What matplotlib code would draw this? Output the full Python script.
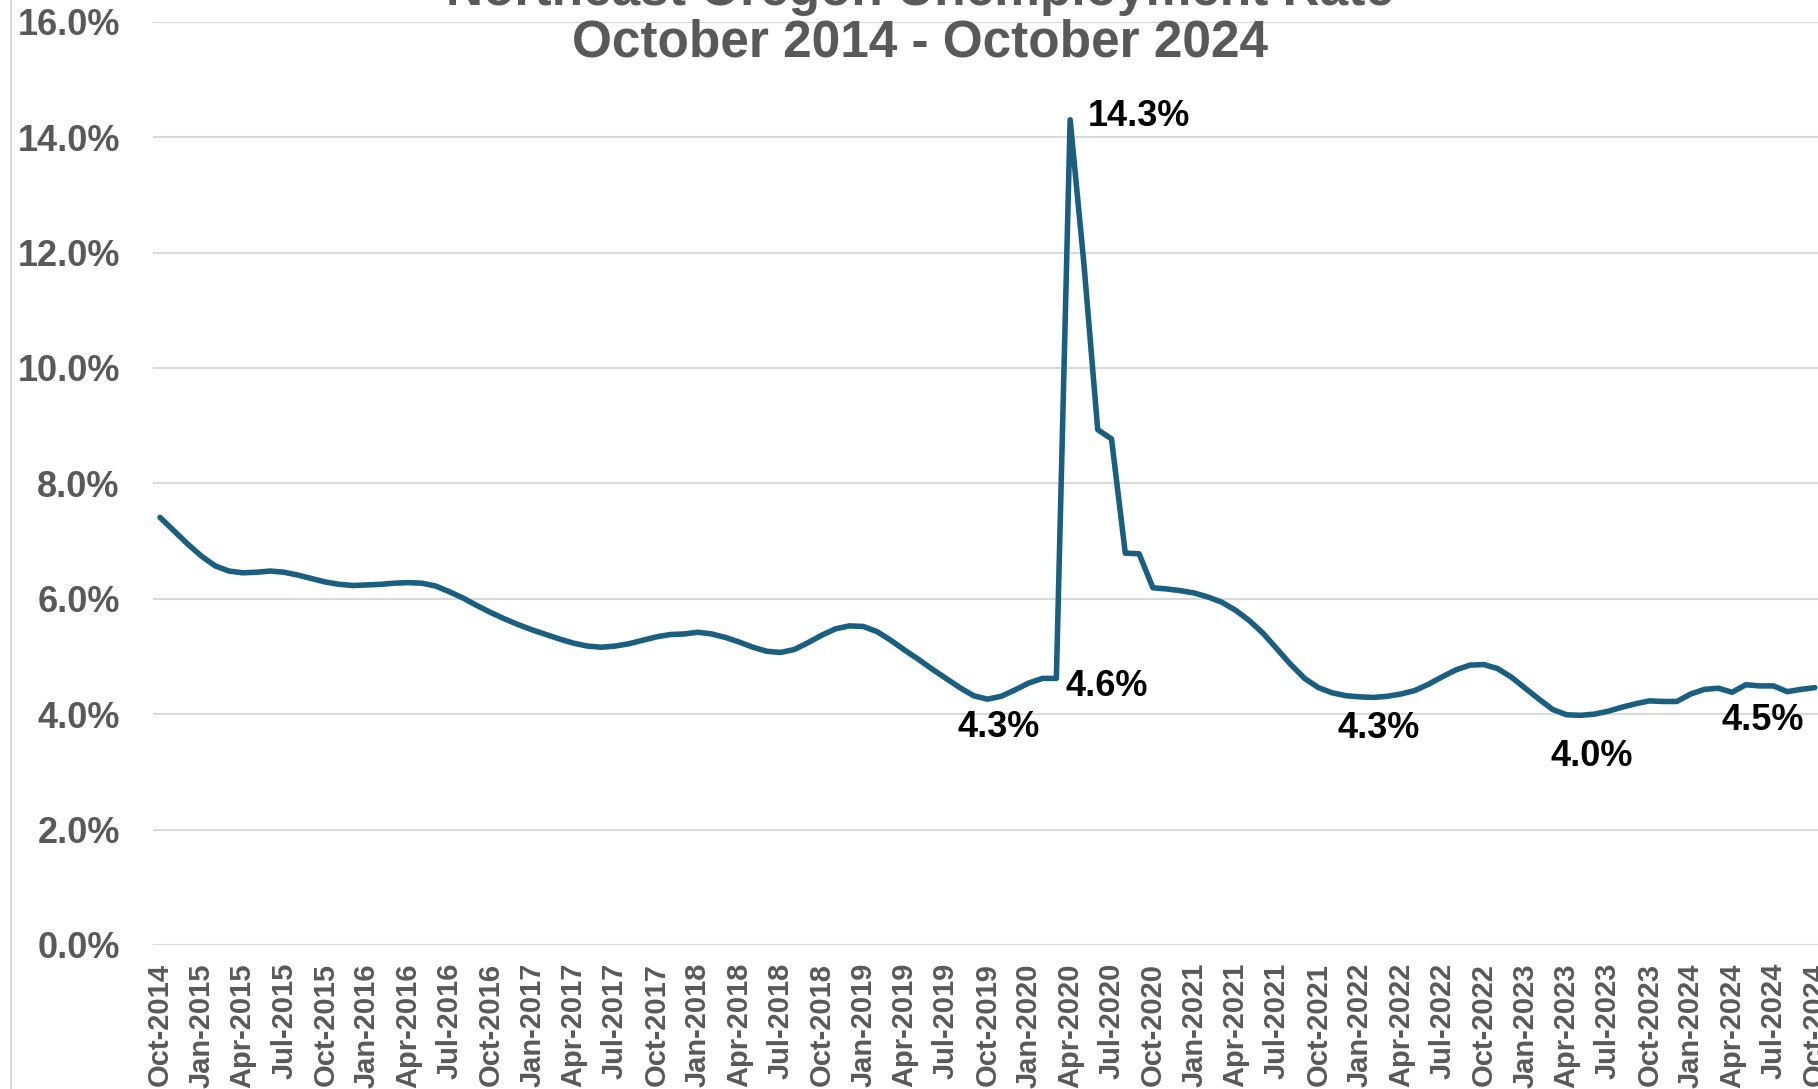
import matplotlib
matplotlib.use("Agg")
import matplotlib.pyplot as plt
from matplotlib.lines import Line2D
import pandas as pd

plt.rcParams['font.family'] = ['Liberation Sans', 'DejaVu Sans']

# ---------------- data ----------------
title_line1 = "Northeast Oregon Unemployment Rate"
title_line2 = "October 2014 - October 2024"

months = pd.date_range("2014-10-01", "2024-10-01", freq="MS")
rate = [
    7.41, 7.18, 6.95, 6.74, 6.57, 6.48, 6.45, 6.46, 6.48, 6.46, 6.41, 6.35,
    6.29, 6.25, 6.23, 6.24, 6.25, 6.27, 6.28, 6.27, 6.22, 6.12, 6.01, 5.88,
    5.76, 5.65, 5.55, 5.46, 5.38, 5.30, 5.23, 5.18, 5.16, 5.18, 5.22, 5.28,
    5.34, 5.38, 5.39, 5.42, 5.39, 5.33, 5.25, 5.16, 5.09, 5.07, 5.12, 5.24,
    5.37, 5.48, 5.53, 5.52, 5.43, 5.28, 5.11, 4.95, 4.78, 4.62, 4.46, 4.32,
    4.26, 4.31, 4.42, 4.54, 4.62, 4.62, 14.3, 11.8, 8.93, 8.77, 6.79, 6.78,
    6.19, 6.17, 6.14, 6.10, 6.03, 5.94, 5.80, 5.62, 5.40, 5.13, 4.86, 4.62,
    4.46, 4.37, 4.32, 4.30, 4.29, 4.31, 4.35, 4.41, 4.52, 4.65, 4.77, 4.85,
    4.86, 4.79, 4.64, 4.45, 4.26, 4.08, 3.99, 3.98, 4.00, 4.05, 4.12, 4.18,
    4.23, 4.22, 4.22, 4.35, 4.43, 4.45, 4.38, 4.51, 4.49, 4.49, 4.39, 4.43,
    4.46,
]
month_labels = [d.strftime("%b-%Y") for d in months]
yticks = [0, 2, 4, 6, 8, 10, 12, 14, 16]
# labelled points: (month index, offset x pt, offset y pt, ha)
label_idx = [66, 65, 60, 88, 103, 120]
label_off = [(13, -4.5, 'left'), (6.7, -12.8, 'left'), (7.8, -27.4, 'center'),
             (3.6, -29.2, 'center'), (8.5, -36.6, 'center'), (-37.7, -30.2, 'center')]

# ---------------- figure ----------------
W, H = 1818, 1089
fig = plt.figure(figsize=(W / 100, H / 100), dpi=100)
fig.patch.set_facecolor('white')

ax_left, ax_right = 153.1, 1821.7
ax_top, ax_bot = 21.7, 945.0
ax = fig.add_axes([ax_left / W, 1 - ax_bot / H, (ax_right - ax_left) / W, (ax_bot - ax_top) / H])

x = list(range(len(rate)))
ax.plot(x, rate, color='#1a5f80', lw=4.0, solid_joinstyle='round', solid_capstyle='round',
        zorder=3, clip_on=False)

ax.set_xlim(-0.5, len(rate) - 0.5)
ax.set_ylim(0, 16)
ax.set_yticks(yticks)
ax.set_yticklabels([f"{v:.1f}%" for v in yticks])
tick_pos = x[::3]
ax.set_xticks(tick_pos)
ax.set_xticklabels([month_labels[i] for i in tick_pos], rotation=90)

for s in ax.spines.values():
    s.set_visible(False)
ax.grid(axis='y', color='#d9d9d9', lw=1.5, zorder=0)
ax.set_axisbelow(True)
ax.tick_params(axis='both', length=0)
ax.tick_params(axis='y', pad=24, labelsize=26, labelcolor='#595959')
ax.tick_params(axis='x', pad=13, labelsize=21, labelcolor='#595959')
for lab in ax.get_yticklabels() + ax.get_xticklabels():
    lab.set_fontweight('bold')

for i, (dx, dy, ha) in zip(label_idx, label_off):
    ax.annotate(f"{rate[i]:.1f}%", xy=(i, rate[i]), xytext=(dx, dy),
                textcoords='offset points', ha=ha, va='baseline',
                fontsize=26, fontweight='bold', color='black', zorder=5,
                annotation_clip=False)

# title (first line partly cut at the top)
cx = 920 / W
fig.text(cx, 1 - 4.5 / H, title_line1, ha='center', va='baseline', fontsize=37,
         fontweight='bold', color='#595959')
fig.text(cx, 1 - 56.7 / H, title_line2, ha='center', va='baseline', fontsize=37,
         fontweight='bold', color='#595959')

# chart-area border at left
fig.add_artist(Line2D([11 / W, 11 / W], [0, 1], color='#d9d9d9', lw=1.5,
                      transform=fig.transFigure))

fig.savefig("out.png", dpi=100, facecolor='white')
